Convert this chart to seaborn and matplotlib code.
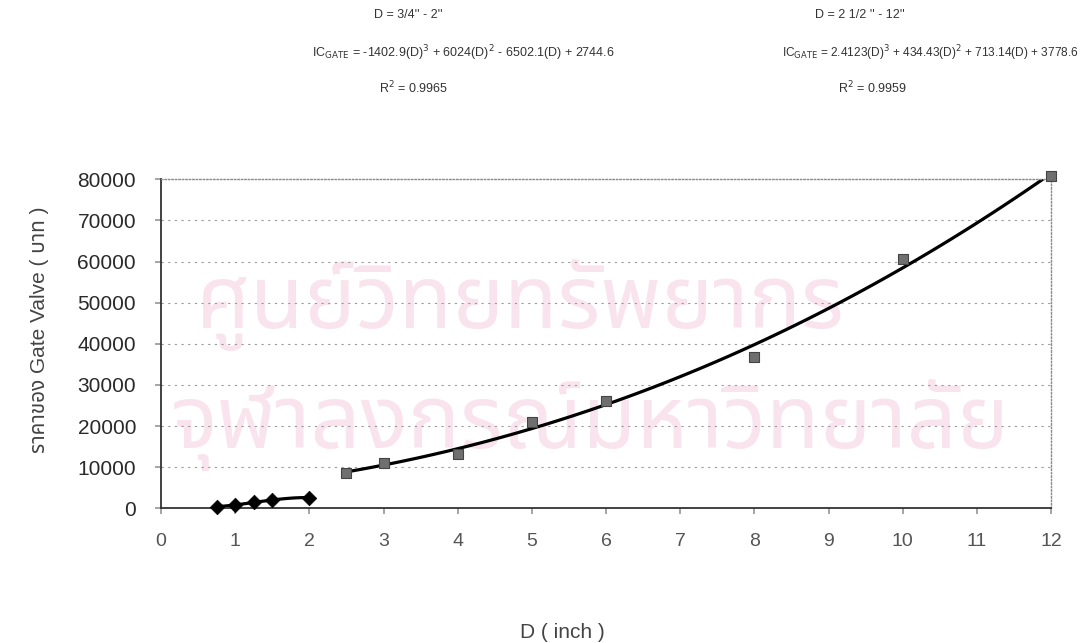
import matplotlib
matplotlib.use("Agg")
import matplotlib.pyplot as plt
import seaborn as sns
import pandas as pd

# ---- data ----
small_D = [0.75, 1.0, 1.25, 1.5, 2.0]
small_cost = [400, 800, 1450, 2000, 2600]
large_D = [2.5, 3, 4, 5, 6, 8, 10, 12]
large_cost = [8500, 11100, 13200, 20900, 26100, 36800, 60700, 80800]
x_ticks = list(range(0, 13))
y_ticks = list(range(0, 80001, 10000))

sns.set_theme(style="white")
FAM = ["Liberation Sans", "Noto Sans Thai", "Noto Sans", "DejaVu Sans"]
plt.rcParams["font.family"] = FAM

small = pd.DataFrame({"D": small_D, "cost": small_cost})
large = pd.DataFrame({"D": large_D, "cost": large_cost})

fig = plt.figure(figsize=(10.86, 6.43), dpi=100)

# faint watermark (behind everything)
wm = "#f9e4ed"
fig.text(520 / 1086, 1 - 305 / 643, "ศูนย์วิทยทรัพยากร", ha="center", va="center",
         fontsize=63, color=wm, zorder=-5)
fig.text(590 / 1086, 1 - 425 / 643, "จุฬาลงกรณ์มหาวิทยาลัย", ha="center",
         va="center", fontsize=63, color=wm, zorder=-5)

ax = fig.add_axes([0.1483, 0.2095, 0.8195, 0.5117])
ax.set_facecolor("none")

# trendlines (3rd-order polynomial)
sns.regplot(data=small, x="D", y="cost", order=3, ci=None, scatter=False,
            line_kws=dict(color="black", lw=2.3), ax=ax)
sns.regplot(data=large, x="D", y="cost", order=3, ci=None, scatter=False,
            line_kws=dict(color="black", lw=2.3), ax=ax)
# points
sns.scatterplot(data=small, x="D", y="cost", marker="D", s=55, color="black",
                edgecolor="black", linewidth=0.5, ax=ax, zorder=5, clip_on=False)
sns.scatterplot(data=large, x="D", y="cost", marker="s", s=45, color="#6f6f6f",
                edgecolor="#444444", linewidth=0.8, ax=ax, zorder=5, clip_on=False)

ax.set_xlim(0, 12)
ax.set_ylim(0, 80000)
ax.set_xticks(x_ticks)
ax.set_yticks(y_ticks)
ax.set_xticklabels([str(t) for t in x_ticks])
ax.set_yticklabels([str(t) for t in y_ticks])
ax.tick_params(axis="y", length=4, pad=14, labelsize=15, color="#999999",
               labelcolor="#2a2a2a", left=True)
ax.tick_params(axis="x", length=4, pad=14, labelsize=14, color="#999999",
               labelcolor="#555555", bottom=True)
ax.set_xlabel("")
ax.set_ylabel("")

for y in y_ticks[1:-1]:
    ax.axhline(y, color="#9a9a9a", lw=0.8, ls=(0, (2, 4)), zorder=0)

for side in ["left", "bottom"]:
    ax.spines[side].set_color("#333333")
    ax.spines[side].set_linewidth(1.3)
for side in ["top", "right"]:
    ax.spines[side].set_color("#8a8a8a")
    ax.spines[side].set_linewidth(1.0)
    ax.spines[side].set_linestyle((0, (1, 1.5)))

# axis titles
fig.text(562 / 1086, 1 - 633 / 643, "D ( inch )", ha="center", va="center",
         fontsize=15, color="#444444")
fig.text(40 / 1086, 1 - 330 / 643, "ราคาของ Gate Valve ( บาท )", ha="center",
         va="center", rotation=90, fontsize=15, color="#444444")

# equation annotations
tc = "#333333"
fs = 9
fig.text(408 / 1086, 1 - 15 / 643, "D = 3/4'' - 2''", ha="center", va="center",
         fontsize=fs, color=tc)
fig.text(463 / 1086, 1 - 53 / 643,
         r"IC$_{\mathrm{GATE}}$ = -1402.9(D)$^3$ + 6024(D)$^2$ - 6502.1(D) + 2744.6",
         ha="center", va="center", fontsize=fs, color=tc)
fig.text(413 / 1086, 1 - 88 / 643, r"R$^2$ = 0.9965", ha="center", va="center",
         fontsize=fs, color=tc)
fig.text(860 / 1086, 1 - 15 / 643, "D = 2 1/2 '' - 12''", ha="center", va="center",
         fontsize=fs, color=tc)
fig.text(930 / 1086, 1 - 53 / 643,
         r"IC$_{\mathrm{GATE}}$ = 2.4123(D)$^3$ + 434.43(D)$^2$ + 713.14(D) + 3778.6",
         ha="center", va="center", fontsize=8.6, color=tc)
fig.text(872 / 1086, 1 - 88 / 643, r"R$^2$ = 0.9959", ha="center", va="center",
         fontsize=fs, color=tc)

fig.savefig("out.png", dpi=100)
